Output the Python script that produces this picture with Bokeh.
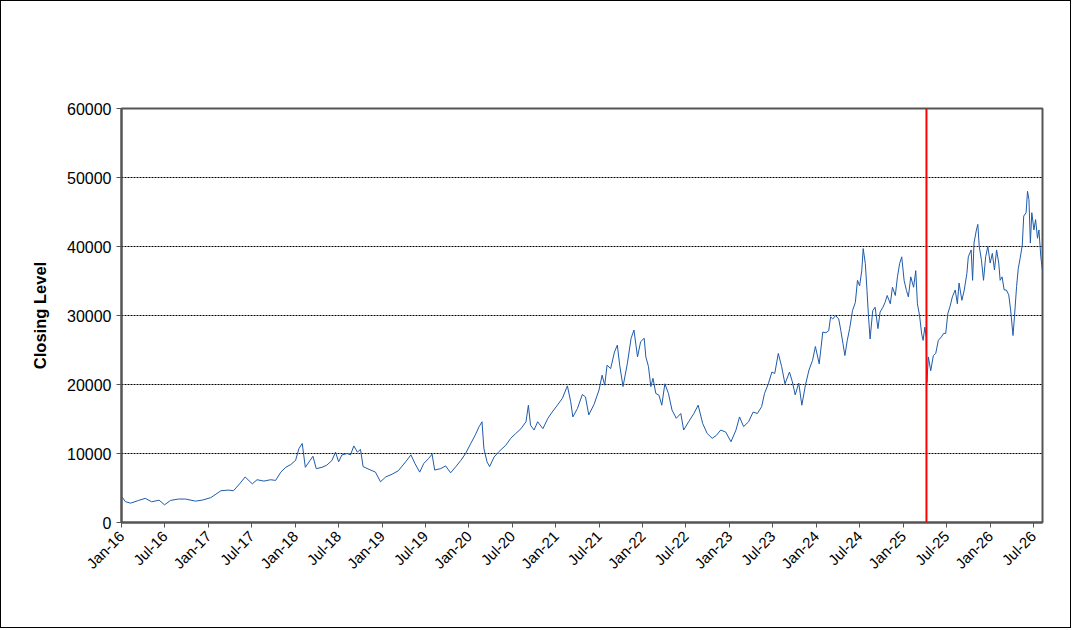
import math
import pandas as pd
from bokeh.plotting import figure
from bokeh.models import FixedTicker, Span, Range1d, NumeralTickFormatter
from bokeh.embed import file_html
from bokeh.resources import INLINE

dates = [
"2016-01-04","2016-01-17","2016-02-08","2016-03-13","2016-04-10","2016-05-07","2016-06-07","2016-06-30",
"2016-07-25","2016-08-28","2016-09-26","2016-11-07","2016-12-05","2017-01-10","2017-02-01","2017-02-22",
"2017-03-25","2017-04-16","2017-05-14","2017-06-04","2017-07-04","2017-07-24","2017-08-22","2017-09-19",
"2017-10-10","2017-11-01","2017-11-22","2017-12-13","2018-01-02","2018-01-16","2018-01-30","2018-02-12",
"2018-03-04","2018-03-16","2018-03-30","2018-04-23","2018-05-13","2018-06-04","2018-06-19","2018-07-02",
"2018-07-16","2018-08-07","2018-08-21","2018-09-04","2018-09-19","2018-10-02","2018-10-13","2018-11-07",
"2018-12-04","2018-12-25","2019-01-16","2019-02-12","2019-03-10","2019-04-10","2019-05-02","2019-05-19",
"2019-06-08","2019-06-25","2019-07-16","2019-07-30","2019-08-10","2019-09-04","2019-09-25","2019-10-16",
"2019-11-07","2019-11-28","2019-12-18","2020-01-08","2020-01-28","2020-02-13","2020-02-25","2020-03-04",
"2020-03-17","2020-03-28","2020-04-16","2020-05-07","2020-06-04","2020-06-25","2020-07-16","2020-08-07",
"2020-08-28","2020-09-07","2020-09-16","2020-10-01","2020-10-16","2020-11-07","2020-11-28","2020-12-16",
"2021-01-07","2021-01-28","2021-02-18","2021-03-04","2021-03-13","2021-04-01","2021-04-22","2021-05-05",
"2021-05-19","2021-06-10","2021-07-01","2021-07-14","2021-07-25","2021-08-04","2021-08-19","2021-09-04",
"2021-09-16","2021-09-26","2021-10-10","2021-10-28","2021-11-13","2021-11-25","2021-12-10","2021-12-23",
"2022-01-07","2022-01-14","2022-01-25","2022-02-04","2022-02-13","2022-02-25","2022-03-10","2022-03-22",
"2022-04-04","2022-04-19","2022-05-04","2022-05-22","2022-06-10","2022-06-22","2022-07-13","2022-08-04",
"2022-08-22","2022-09-10","2022-09-29","2022-10-20","2022-11-07","2022-11-25","2022-12-16","2023-01-07",
"2023-01-28","2023-02-12","2023-03-01","2023-03-22","2023-04-10","2023-04-28","2023-05-16","2023-05-28",
"2023-06-13","2023-06-28","2023-07-10","2023-07-25","2023-08-08","2023-08-22","2023-09-10","2023-09-22",
"2023-10-04","2023-10-19","2023-11-01","2023-11-16","2023-12-01","2023-12-16","2023-12-28","2024-01-13",
"2024-01-28","2024-02-10","2024-02-22","2024-03-01","2024-03-10","2024-03-22","2024-04-04","2024-04-13",
"2024-04-22","2024-04-30","2024-05-10","2024-05-20","2024-06-01","2024-06-13","2024-06-22","2024-07-01",
"2024-07-10","2024-07-16","2024-07-25","2024-08-01","2024-08-07","2024-08-14","2024-08-25","2024-09-04",
"2024-09-16","2024-09-25","2024-10-07","2024-10-16","2024-10-25","2024-11-07","2024-11-16","2024-11-28",
"2024-12-07","2024-12-16","2024-12-25","2025-01-04","2025-01-14","2025-01-22","2025-02-01","2025-02-13",
"2025-02-22","2025-03-01","2025-03-10","2025-03-19","2025-03-25","2025-04-01","2025-04-07","2025-04-10",
"2025-04-16","2025-04-26","2025-05-07","2025-05-17","2025-05-28","2025-06-10","2025-06-19","2025-06-28",
"2025-07-07","2025-07-16","2025-07-26","2025-08-07","2025-08-16","2025-08-23","2025-09-04","2025-09-14",
"2025-09-25","2025-10-01","2025-10-13","2025-10-19","2025-10-25","2025-11-04","2025-11-10","2025-11-16",
"2025-11-25","2025-12-04","2025-12-13","2025-12-22","2026-01-01","2026-01-10","2026-01-19","2026-01-28",
"2026-02-06","2026-02-12","2026-02-20","2026-03-01","2026-03-10","2026-03-20","2026-03-28","2026-04-07",
"2026-04-13","2026-04-22","2026-04-29","2026-05-07","2026-05-16","2026-05-22","2026-06-01","2026-06-07",
"2026-06-13","2026-06-19","2026-06-25","2026-07-04","2026-07-11","2026-07-19","2026-07-25","2026-08-02",
"2026-08-09",
]

closing = [
3670,3030,2800,3200,3500,3000,3240,2560,
3200,3400,3400,3100,3240,3600,4100,4600,
4700,4600,5700,6600,5600,6200,6000,6200,
6100,7300,8000,8400,9000,10700,11450,8000,
9000,9600,7800,8000,8300,9000,10200,8800,
9800,10000,9800,11100,10200,10600,8100,7700,
7300,5900,6600,7000,7500,8800,9800,8550,
7300,8550,9300,9900,7600,7800,8200,7200,
8100,9000,10000,11400,12700,13900,14600,10700,
8800,8100,9500,10300,11200,12200,12900,13600,
14600,17000,14100,13400,14600,13600,15100,16000,
17000,18000,19800,17500,15300,16500,18550,18200,
15600,17100,19200,21350,19900,22800,22300,24700,
25700,22800,19700,23000,26700,27900,24000,26200,
26700,24000,22600,19700,20900,18700,18450,17000,
20100,18700,16300,15100,15800,13400,14600,15800,
17000,14350,12900,12200,12650,13400,13100,11700,
13400,15300,13900,14600,16000,15800,16800,18700,
20100,21800,21600,24500,22600,20100,21800,20400,
18500,20200,17000,19900,22100,23500,25500,23000,
27600,27500,27800,29800,29500,30000,29500,27800,
25900,24200,26400,28100,30700,31900,35100,34300,
36500,39700,37500,33600,30000,26600,30700,31200,
28100,30500,31200,31900,32900,31700,34100,32900,
35600,37500,38500,35100,33600,32700,35600,34100,
36500,31700,30000,27300,26400,28300,26900,20300,
24000,22000,24200,24500,26400,26900,27400,27400,
30300,31300,32700,33700,31700,34700,32200,33700,
36100,38500,39500,35100,40500,42400,43200,40000,
38100,35100,38500,40000,37600,39000,36600,39500,
37600,35100,35600,33700,33700,33000,30800,27100,
29800,34200,36800,38300,40200,44400,44900,48000,
46800,40500,44900,42400,43900,41200,42400,38500,
36500,
]

tick_dates = ["2016-01-01","2016-07-01","2017-01-01","2017-07-01","2018-01-01","2018-07-01",
              "2019-01-01","2019-07-01","2020-01-01","2020-07-01","2021-01-01","2021-07-01",
              "2022-01-01","2022-07-01","2023-01-01","2023-07-01","2024-01-01","2024-07-01",
              "2025-01-01","2025-07-01","2026-01-01","2026-07-01"]
tick_labels = ["Jan-16","Jul-16","Jan-17","Jul-17","Jan-18","Jul-18","Jan-19","Jul-19",
               "Jan-20","Jul-20","Jan-21","Jul-21","Jan-22","Jul-22","Jan-23","Jul-23",
               "Jan-24","Jul-24","Jan-25","Jul-25","Jan-26","Jul-26"]
y_ticks = [0, 10000, 20000, 30000, 40000, 50000, 60000]
marker_date = "2025-04-08"
x_start, x_end = "2016-01-01", "2026-08-09"

def ms(d):
    return pd.Timestamp(d).value / 1e6

xs = pd.to_datetime(dates)

p = figure(width=1071, height=628, x_axis_type="datetime", output_backend="svg",
           toolbar_location=None, x_range=Range1d(ms(x_start), ms(x_end)),
           y_range=Range1d(0, 60000),
           min_border_left=120, min_border_right=30, min_border_top=107, min_border_bottom=107)
p.styles = {"border": "1px solid black"}
p.line(xs, closing, line_color="#1F5BAA", line_width=1)

p.add_layout(Span(location=ms(marker_date), dimension="height", line_color="#FF0000", line_width=2))

tv = [ms(d) for d in tick_dates]
p.xaxis.ticker = FixedTicker(ticks=tv)
p.xaxis.major_label_overrides = {t: l for t, l in zip(tv, tick_labels)}
p.xaxis.major_label_orientation = math.pi / 4
p.xaxis.major_label_standoff = 6
p.yaxis.ticker = FixedTicker(ticks=y_ticks)
p.yaxis.formatter = NumeralTickFormatter(format="0")

for ax in (p.xaxis, p.yaxis):
    ax.axis_line_color = "#555555"
    ax.axis_line_width = 2
    ax.major_tick_line_color = "#555555"
    ax.major_tick_out = 5
    ax.major_tick_in = 0
    ax.minor_tick_line_color = None
    ax.major_label_text_font = "Liberation Sans"
    ax.major_label_text_color = "#000000"

p.yaxis.major_label_text_font_size = "16px"
p.xaxis.major_label_text_font_size = "15px"
p.yaxis.axis_label = "Closing Level"
p.yaxis.axis_label_text_font = "Liberation Sans"
p.yaxis.axis_label_text_font_style = "bold"
p.yaxis.axis_label_text_font_size = "16.5px"
p.yaxis.axis_label_text_color = "#000000"
p.yaxis.axis_label_standoff = 15

p.xgrid.grid_line_color = None
p.ygrid.grid_line_color = "#000000"
p.ygrid.grid_line_dash = "2 1"
p.ygrid.grid_line_width = 1
p.outline_line_color = "#555555"
p.outline_line_width = 2
p.background_fill_color = "white"
p.border_fill_color = "white"

open("out.html", "w").write(file_html(p, INLINE))
